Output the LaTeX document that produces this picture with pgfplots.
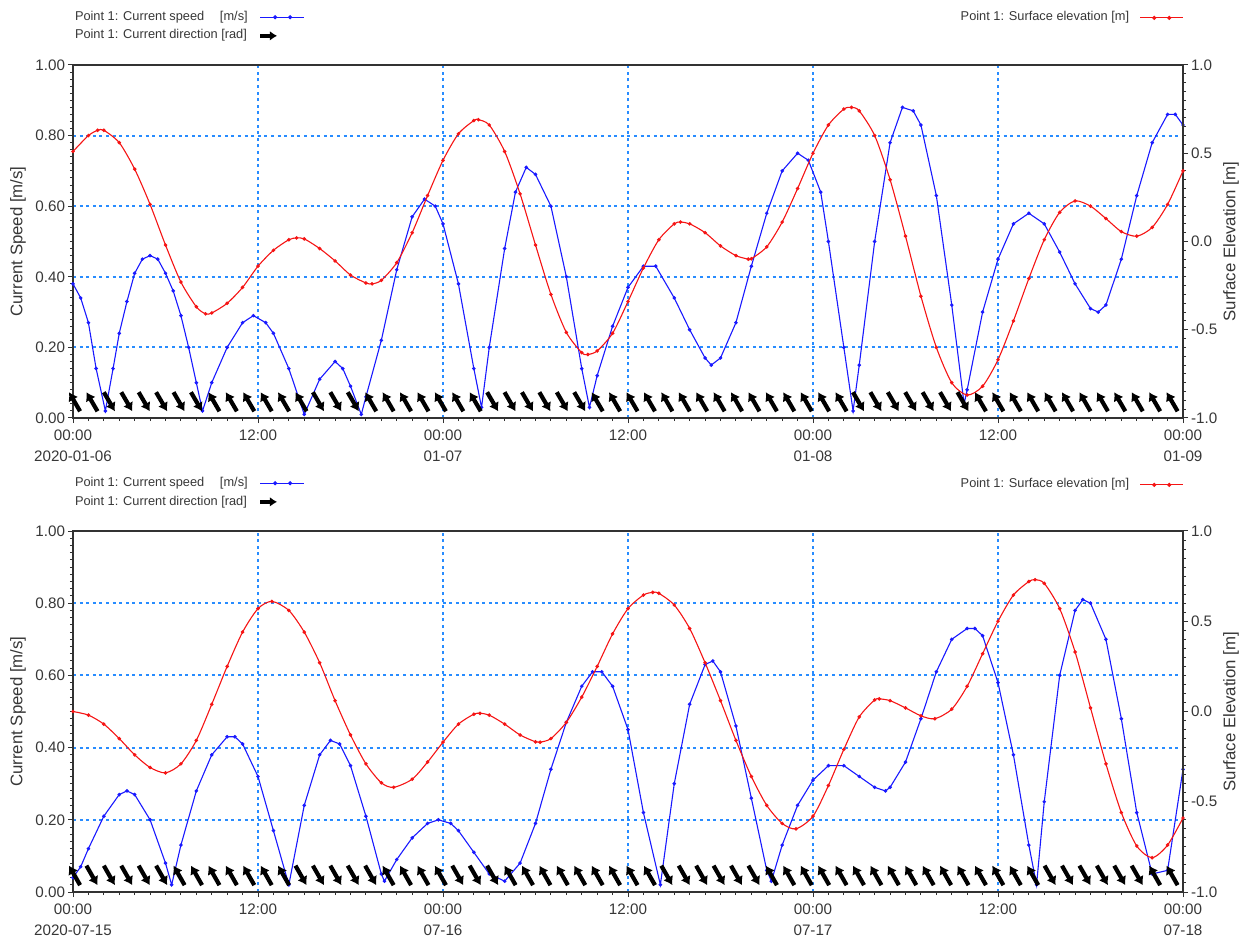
\documentclass[border=0pt]{standalone}
\usepackage{pgfplots}
\pgfplotsset{compat=1.18}
\usepackage{pgfplotstable}
\usepackage{fontspec}
\setmainfont{Liberation Sans}
\usetikzlibrary{arrows.meta}

\definecolor{gridblue}{RGB}{40,140,255}
\definecolor{axgray}{RGB}{50,50,50}
\definecolor{txtgray}{RGB}{55,55,55}
\definecolor{cblue}{RGB}{25,25,255}
\definecolor{cred}{RGB}{245,20,20}

% ---------- Panel 1: 2020-01-06 .. 01-09 ----------
\pgfplotstableread{
t v
0 0.38
0.5 0.34
1 0.27
1.5 0.14
2.1 0.02
2.6 0.14
3 0.24
3.5 0.33
4 0.41
4.5 0.45
5 0.46
5.5 0.45
6 0.41
6.5 0.36
7 0.29
7.5 0.20
8 0.10
8.4 0.02
9 0.10
10 0.20
11 0.27
11.7 0.29
12.5 0.27
13 0.24
14 0.14
15 0.01
16 0.11
17 0.16
17.5 0.14
18 0.09
18.7 0.01
19 0.06
20 0.22
21 0.42
22 0.57
22.8 0.62
23.5 0.60
24 0.55
25 0.38
26 0.14
26.5 0.03
27 0.20
28 0.48
28.7 0.64
29.4 0.71
30 0.69
31 0.60
32 0.40
33 0.14
33.5 0.03
34 0.12
35 0.26
36 0.37
37 0.43
37.8 0.43
39 0.34
40 0.25
41 0.17
41.4 0.15
42 0.17
43 0.27
44 0.43
45 0.58
46 0.70
47 0.75
47.7 0.73
48.5 0.64
49 0.50
50 0.20
50.6 0.02
51 0.15
52 0.50
53 0.78
53.8 0.88
54.5 0.87
55 0.83
56 0.63
57 0.32
57.8 0.04
58 0.08
59 0.30
60 0.45
61 0.55
62 0.58
63 0.55
64 0.47
65 0.38
66 0.31
66.5 0.30
67 0.32
68 0.45
69 0.63
70 0.78
71 0.86
71.5 0.86
72 0.83
}\speedA

\pgfplotstableread{
t e
0 0.51
1 0.60
1.6 0.63
2 0.63
3 0.56
4 0.41
5 0.21
6 -0.02
7 -0.23
8 -0.37
8.6 -0.41
9 -0.405
10 -0.35
11 -0.26
12 -0.14
13 -0.05
14 0.01
14.5 0.02
15 0.015
16 -0.04
17 -0.11
18 -0.19
19 -0.235
19.4 -0.24
20 -0.22
21 -0.12
22 0.05
23 0.26
24 0.46
25 0.61
26 0.685
26.3 0.69
27 0.66
28 0.51
29 0.27
30 -0.02
31 -0.30
32 -0.515
33 -0.63
33.4 -0.64
34 -0.62
35 -0.52
36 -0.34
37 -0.15
38 0.01
39 0.10
39.4 0.11
40 0.10
41 0.05
42 -0.025
43 -0.08
43.8 -0.10
44 -0.098
45 -0.03
46 0.11
47 0.30
48 0.50
49 0.66
50 0.75
50.5 0.76
51 0.74
52 0.60
53 0.35
54 0.03
55 -0.31
56 -0.60
57 -0.80
58 -0.87
59 -0.82
60 -0.67
61 -0.45
62 -0.21
63 0.01
64 0.165
65 0.23
66 0.20
67 0.13
68 0.056
69 0.03
70 0.08
71 0.21
72 0.40
}\elevA

% direction: s=1 -> towards NW (flood), s=-1 -> towards SE (ebb)
\pgfplotstableread{
t s
0.1 1
1.23 1
2.36 -1
3.49 -1
4.62 -1
5.75 -1
6.88 -1
8.01 -1
9.14 1
10.27 1
11.4 1
12.53 1
13.66 1
14.79 1
15.92 -1
17.05 -1
18.18 -1
19.31 1
20.44 1
21.57 1
22.7 1
23.83 1
24.96 1
26.09 1
27.22 -1
28.35 -1
29.48 -1
30.61 -1
31.74 -1
32.87 -1
34.0 1
35.13 1
36.26 1
37.39 1
38.52 1
39.65 1
40.78 1
41.91 1
43.04 1
44.17 1
45.3 1
46.43 1
47.56 1
48.69 1
49.82 1
50.95 -1
52.08 -1
53.21 -1
54.34 -1
55.47 -1
56.6 -1
57.73 -1
58.86 1
59.99 1
61.12 1
62.25 1
63.38 1
64.51 1
65.64 1
66.77 1
67.9 1
69.03 1
70.16 1
71.29 1
}\dirA

% ---------- Panel 2: 2020-07-15 .. 07-18 ----------
\pgfplotstableread{
t v
0 0.04
0.5 0.07
1 0.12
2 0.21
3 0.27
3.5 0.28
4 0.27
5 0.20
6 0.08
6.4 0.02
7 0.13
8 0.28
9 0.38
10 0.43
10.5 0.43
11 0.41
12 0.32
13 0.17
14 0.02
15 0.24
16 0.38
16.7 0.42
17.3 0.41
18 0.35
19 0.21
20 0.05
20.2 0.03
21 0.09
22 0.15
23 0.19
23.7 0.20
24.5 0.19
25 0.17
26 0.11
27 0.05
28 0.03
29 0.08
30 0.19
31 0.34
32 0.47
33 0.57
33.7 0.61
34.3 0.61
35 0.57
36 0.45
37 0.22
38.1 0.02
39 0.30
40 0.52
41 0.63
41.5 0.64
42 0.61
43 0.46
44 0.26
45 0.06
45.3 0.03
46 0.13
47 0.24
48 0.31
49 0.35
50 0.35
51 0.32
52 0.29
52.7 0.28
53 0.29
54 0.36
55 0.48
56 0.61
57 0.70
58 0.73
58.5 0.73
59 0.71
60 0.58
61 0.38
62 0.13
62.5 0.02
63 0.25
64 0.60
65 0.78
65.5 0.81
66 0.80
67 0.70
68 0.48
69 0.22
70 0.05
71 0.06
72 0.34
}\speedB

\pgfplotstableread{
t e
0 0.00
1 -0.02
2 -0.07
3 -0.15
4 -0.24
5 -0.31
6 -0.34
7 -0.29
8 -0.16
9 0.04
10 0.25
11 0.44
12 0.57
12.9 0.61
14 0.56
15 0.44
16 0.27
17 0.06
18 -0.13
19 -0.29
20 -0.395
20.8 -0.42
22 -0.375
23 -0.28
24 -0.17
25 -0.07
26 -0.015
26.4 -0.01
27 -0.02
28 -0.07
29 -0.13
30 -0.168
30.3 -0.17
31 -0.15
32 -0.06
33 0.08
34 0.25
35 0.43
36 0.57
37 0.645
37.6 0.66
38 0.655
39 0.59
40 0.46
41 0.27
42 0.06
43 -0.16
44 -0.36
45 -0.52
46 -0.62
46.9 -0.65
48 -0.58
49 -0.41
50 -0.21
51 -0.03
52 0.064
52.3 0.07
53 0.06
54 0.02
55 -0.024
55.9 -0.04
57 0.013
58 0.14
59 0.32
60 0.50
61 0.645
62 0.72
62.4 0.73
63 0.71
64 0.57
65 0.33
66 0.02
67 -0.29
68 -0.56
69 -0.745
70 -0.81
71 -0.74
72 -0.59
}\elevB

\pgfplotstableread{
t s
0.1 1
1.23 -1
2.36 -1
3.49 -1
4.62 -1
5.75 -1
6.88 1
8.01 1
9.14 1
10.27 1
11.4 1
12.53 1
13.66 1
14.79 -1
15.92 -1
17.05 -1
18.18 -1
19.31 -1
20.44 1
21.57 1
22.7 1
23.83 1
24.96 -1
26.09 -1
27.22 -1
28.35 1
29.48 1
30.61 1
31.74 1
32.87 1
34.0 1
35.13 1
36.26 1
37.39 1
38.52 -1
39.65 -1
40.78 -1
41.91 -1
43.04 -1
44.17 -1
45.3 1
46.43 1
47.56 1
48.69 1
49.82 1
50.95 1
52.08 1
53.21 1
54.34 1
55.47 1
56.6 1
57.73 1
58.86 1
59.99 1
61.12 1
62.25 1
63.38 -1
64.51 -1
65.64 -1
66.77 -1
67.9 -1
69.03 -1
70.16 1
71.29 1
}\dirB

\pgfplotsset{
  panel/.style={
    scale only axis, width=555pt,
    xmin=0, xmax=72, xtick={0,12,24,36,48,60,72}, minor x tick num=11,
    tick align=outside, major tick length=2.6pt, minor tick length=1.6pt,
    axis line style={axgray, line width=0.75pt},
    every tick/.style={axgray, line width=0.5pt},
    tick label style={font=\fontsize{7.6}{10.5}\selectfont, text=txtgray},
    /pgf/number format/assume math mode=true,
  },
  leftax/.style={panel,
    ymin=0, ymax=1, ytick={0,0.2,0.4,0.6,0.8,1}, minor y tick num=9,
    tick pos=left,
    /pgf/number format/fixed, /pgf/number format/fixed zerofill, /pgf/number format/precision=2,
    xmajorgrids, ymajorgrids,
    grid style={gridblue, dash pattern=on 1.5pt off 1.8pt, line width=0.95pt},
    xticklabel style={align=center},
    yticklabel style={inner xsep=1.2pt},
    ylabel={Current Speed [m/s]},
    every axis y label/.style={at={(axis description cs:0,0.5)}, xshift=-27.5pt, rotate=90, anchor=center,
      font=\fontsize{8.4}{9}\selectfont, text=txtgray},
    legend style={draw=none, fill=none, at={(axis description cs:0,1)}, anchor=south west,
      font=\fontsize{6.4}{7}\selectfont, text=txtgray, inner sep=0pt, row sep=1.6pt,
      nodes={inner sep=0.8pt},
      /tikz/every odd column/.style={column sep=4.5pt}},
    legend cell align=left, legend plot pos=right,
  },
  rightax/.style={panel,
    ymin=-1, ymax=1, ytick={-1,-0.5,0,0.5,1}, minor y tick num=9,
    axis x line=none, axis y line*=right,
    /pgf/number format/fixed, /pgf/number format/fixed zerofill, /pgf/number format/precision=1,
    yticklabel style={inner xsep=1.2pt},
    ylabel={Surface Elevation [m]},
    every axis y label/.style={at={(axis description cs:1,0.5)}, xshift=24pt, rotate=90, anchor=center,
      font=\fontsize{8.4}{9}\selectfont, text=txtgray},
    legend style={draw=none, fill=none, at={(axis description cs:1,1)}, anchor=south east,
      font=\fontsize{6.4}{7}\selectfont, text=txtgray, inner sep=0pt,
      nodes={inner sep=0.8pt},
      /tikz/every odd column/.style={column sep=4.5pt}},
    legend cell align=left, legend plot pos=right,
  },
  arrax/.style={scale only axis, width=555pt, xmin=0, xmax=72, ymin=0, ymax=1,
    axis lines=none, ticks=none, clip=false},
  speedline/.style={cblue, line width=0.55pt, mark=*, mark size=0.6pt},
  elevline/.style={cred, line width=0.55pt, mark=*, mark size=0.6pt, smooth, tension=0.45},
  dirarrow/.style={black, line width=2.1pt, -{Latex[length=4.2pt,width=5.6pt]},
    quiver={u=-0.72*\thisrow{s}, v=0.054*\thisrow{s}}},
  bluelegend/.style={legend image code/.code={
      \draw[cblue, line width=0.55pt] (0pt,0pt) -- (22pt,0pt);
      \fill[cblue] (7.5pt,0pt) circle (0.75pt);
      \fill[cblue] (15pt,0pt) circle (0.75pt);}},
  redlegend/.style={legend image code/.code={
      \draw[cred, line width=0.55pt] (0pt,0pt) -- (21.5pt,0pt);
      \fill[cred] (7pt,0pt) circle (0.75pt);
      \fill[cred] (14.5pt,0pt) circle (0.75pt);}},
  arrowlegend/.style={legend image code/.code={
      \draw[black, line width=1.8pt, -{Latex[length=3.6pt,width=4.8pt]}] (0pt,0pt) -- (8.5pt,0pt);}},
}

\begin{document}
\begin{tikzpicture}
\useasboundingbox (0,0) rectangle (622.5pt,471pt);

% ===== top panel =====
\begin{axis}[leftax, height=176.5pt, at={(36.5pt,262pt)}, anchor=south west,
  xticklabels={{00:00\\2020-01-06},{12:00},{00:00\\01-07},{12:00},{00:00\\01-08},{12:00},{00:00\\01-09}},
  legend style={yshift=10.5pt, xshift=0pt}]
\addplot[speedline, bluelegend] table[x=t, y=v] {\speedA};
\addlegendentry{\makebox[72.5pt][l]{Point 1: Current speed}[m/s]}
\addlegendimage{arrowlegend}
\addlegendentry{Point 1: Current direction [rad]}
\end{axis}

\begin{axis}[rightax, height=176.5pt, at={(36.5pt,262pt)}, anchor=south west,
  legend style={yshift=19.5pt, xshift=0.6pt}]
\addplot[elevline, redlegend] table[x=t, y=e] {\elevA};
\addlegendentry{Point 1: Surface elevation [m]}
\end{axis}

\begin{axis}[arrax, height=176.5pt, at={(36.5pt,262pt)}, anchor=south west]
\addplot[dirarrow] table[x expr=\thisrow{t}+0.36*\thisrow{s}, y expr=0.046-0.027*\thisrow{s}] {\dirA};
\end{axis}

% ===== bottom panel =====
\begin{axis}[leftax, height=180.5pt, at={(36.5pt,25pt)}, anchor=south west,
  xticklabels={{00:00\\2020-07-15},{12:00},{00:00\\07-16},{12:00},{00:00\\07-17},{12:00},{00:00\\07-18}},
  legend style={yshift=10.5pt, xshift=0pt}]
\addplot[speedline, bluelegend] table[x=t, y=v] {\speedB};
\addlegendentry{\makebox[72.5pt][l]{Point 1: Current speed}[m/s]}
\addlegendimage{arrowlegend}
\addlegendentry{Point 1: Current direction [rad]}
\end{axis}

\begin{axis}[rightax, height=180.5pt, at={(36.5pt,25pt)}, anchor=south west,
  legend style={yshift=19pt, xshift=0.6pt}]
\addplot[elevline, redlegend] table[x=t, y=e] {\elevB};
\addlegendentry{Point 1: Surface elevation [m]}
\end{axis}

\begin{axis}[arrax, height=180.5pt, at={(36.5pt,25pt)}, anchor=south west]
\addplot[dirarrow] table[x expr=\thisrow{t}+0.36*\thisrow{s}, y expr=0.046-0.027*\thisrow{s}] {\dirB};
\end{axis}
\end{tikzpicture}
\end{document}
